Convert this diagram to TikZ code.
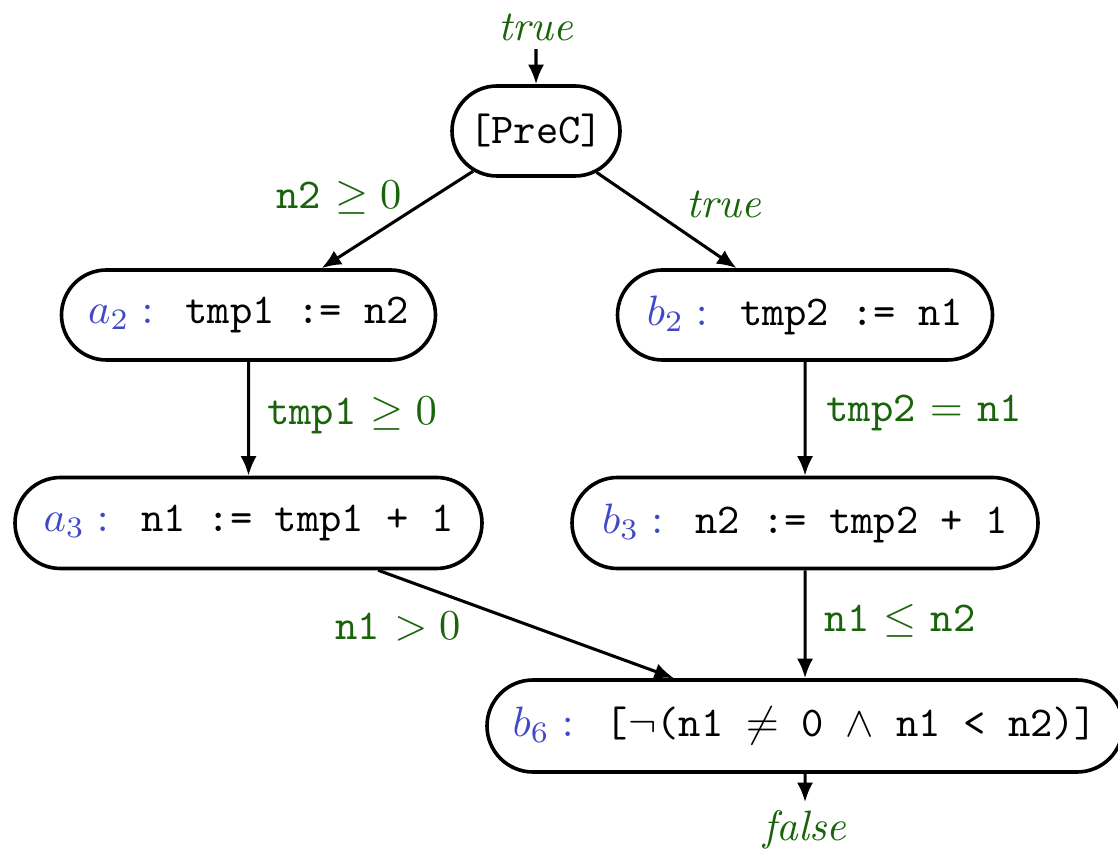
\documentclass[tikz,border=0pt]{standalone}
\usetikzlibrary{shapes.misc,arrows.meta}
\definecolor{lgreen}{RGB}{25,100,10}
\definecolor{lblue}{RGB}{64,72,200}
\def\pxu{0.23529pt}
\def\gp{\hspace{7.6pt}}
\begin{document}
\begin{tikzpicture}[x=0.23529pt,y=-0.23529pt,
  box/.style={rounded rectangle, draw, line width=0.85pt, minimum height=90*\pxu, inner sep=0pt},
  lbl/.style={text=lgreen, inner sep=0pt},
  endlbl/.style={text=lgreen, inner sep=1.8pt},
  arr/.style={line width=0.72pt, -{Latex[length=4.6pt,width=3.8pt]}}]
\useasboundingbox (0,0) rectangle (1118,851);
% nodes
\node[endlbl] (top) at (536,27) {\textit{true}};
\node[box, minimum width=168*\pxu] (prec) at (536,131) {\texttt{[PreC]}};
\node[box, minimum width=374*\pxu] (a2) at (248.5,315) {{\color{lblue}$a_2:$}\gp\texttt{tmp1 := n2}};
\node[box, minimum width=375*\pxu] (b2) at (805,315) {{\color{lblue}$b_2:$}\gp\texttt{tmp2 := n1}};
\node[box, minimum width=467*\pxu, minimum height=91*\pxu] (a3) at (248.5,523) {{\color{lblue}$a_3:$}\gp\texttt{n1 := tmp1 + 1}};
\node[box, minimum width=466*\pxu, minimum height=91*\pxu] (b3) at (805,523) {{\color{lblue}$b_3:$}\gp\texttt{n2 := tmp2 + 1}};
\node[box, minimum width=636*\pxu, minimum height=92*\pxu] (b6) at (805,726) {{\color{lblue}$b_6:$}\gp\texttt{[}$\neg$\texttt{(n1 }$\neq$\texttt{ 0 }$\wedge$\texttt{ n1 < n2)]}};
\node[endlbl] (bot) at (805,830) {\textit{false}};
% edge labels
\node[lbl] (l1) at (339,198) {\texttt{n2} $\geq 0$};
\node[lbl] (l2) at (724,204) {\textit{true}};
\node[lbl] (l3) at (352,416) {\texttt{tmp1} $\geq 0$};
\node[lbl] (l4) at (924,413) {\texttt{tmp2} $=$ \texttt{n1}};
\node[lbl] (l5) at (398,627) {\texttt{n1} $> 0$};
\node[lbl] (l6) at (900,621) {\texttt{n1} $\leq$ \texttt{n2}};
% edges
\draw[arr] (top) -- (prec);
\draw[arr] (prec) -- (a2);
\draw[arr] (prec) -- (b2);
\draw[arr] (a2) -- (a3);
\draw[arr] (b2) -- (b3);
\draw[arr] (a3) -- (b6);
\draw[arr] (b3) -- (b6);
\draw[arr] (b6) -- (bot);
\end{tikzpicture}
\end{document}
